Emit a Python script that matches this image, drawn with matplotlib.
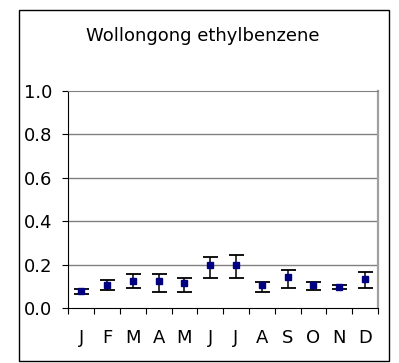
import matplotlib.pyplot as plt
from matplotlib.patches import Rectangle

# ── data ───────────────────────────────────────────────────────────────────────
months = ["J", "F", "M", "A", "M", "J", "J", "A", "S", "O", "N", "D"]
mean   = [0.078, 0.108, 0.125, 0.125, 0.114, 0.196, 0.196, 0.105, 0.143, 0.105, 0.096, 0.132]
upper  = [0.087, 0.128, 0.155, 0.155, 0.138, 0.236, 0.245, 0.119, 0.173, 0.119, 0.105, 0.164]
lower  = [0.066, 0.083, 0.092, 0.074, 0.074, 0.137, 0.137, 0.074, 0.092, 0.083, 0.087, 0.092]

plt.rcParams["font.family"] = ["DejaVu Sans"]

fig = plt.figure(figsize=(3.99, 3.63), dpi=100)
ax = fig.add_axes([68.3 / 399, 55 / 363, 309.7 / 399, 217 / 363])

xs = list(range(len(months)))
yerr = [[m - lo for m, lo in zip(mean, lower)], [hi - m for m, hi in zip(mean, upper)]]

ax.errorbar(xs, mean, yerr=yerr, fmt="s", color="#000080", markersize=5,
            ecolor="black", elinewidth=1.1, capsize=5.4, capthick=1.3, zorder=3)

# gridlines / frame in Excel style
for y in [0.2, 0.4, 0.6, 0.8]:
    ax.axhline(y, color="#808080", linewidth=1.0, zorder=1)

ax.set_ylim(0, 1.0)
ax.set_xlim(-0.5, len(months) - 0.5)
ax.set_yticks([0.0, 0.2, 0.4, 0.6, 0.8, 1.0])
ax.set_yticklabels(["0.0", "0.2", "0.4", "0.6", "0.8", "1.0"])
ax.set_xticks(xs)
ax.set_xticklabels(months)
ax.set_xticks([x - 0.5 for x in range(len(months) + 1)], minor=True)

ax.tick_params(axis="y", direction="out", length=4.3, width=0.8, pad=7, labelsize=13)
ax.tick_params(axis="x", which="major", length=0, pad=15, labelsize=13)
ax.tick_params(axis="x", which="minor", direction="out", length=4, width=0.8)

ax.spines["left"].set_color("black")
ax.spines["bottom"].set_color("black")
ax.spines["top"].set_color("#808080")
ax.spines["right"].set_color("#a0a0a0")
ax.spines["right"].set_linewidth(1.6)

fig.text(203 / 399, 1 - 40.7 / 363, "Wollongong ethylbenzene", ha="center", va="baseline",
         fontsize=13)

# outer chart border
fig.add_artist(Rectangle((18.5 / 399, 2 / 363), 370 / 399, 351 / 363,
                         transform=fig.transFigure, fill=False,
                         edgecolor="black", linewidth=1.0))

fig.savefig("out.png", dpi=100)
